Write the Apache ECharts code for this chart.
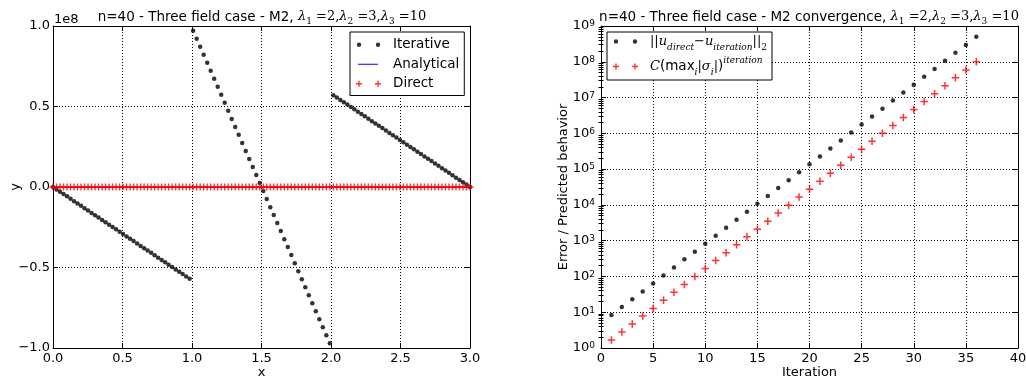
<!DOCTYPE html>
<html><head><meta charset="utf-8">
<script src="https://cdn.jsdelivr.net/npm/echarts@6/dist/echarts.min.js"></script>
<style>html,body{margin:0;padding:0;background:#fff}#c{width:1026px;height:378px}</style>
</head><body><div id="c"></div>
<script>
// ---------- Left panel data (y in units of 1e8) ----------
const X_POS = [
0, 0.0252, 0.0504, 0.0756, 0.1008, 0.1261, 0.1513, 0.1765, 0.2017, 0.2269,
0.2521, 0.2773, 0.3025, 0.3277, 0.3529, 0.3782, 0.4034, 0.4286, 0.4538, 0.4790,
0.5042, 0.5294, 0.5546, 0.5798, 0.6050, 0.6303, 0.6555, 0.6807, 0.7059, 0.7311,
0.7563, 0.7815, 0.8067, 0.8319, 0.8571, 0.8824, 0.9076, 0.9328, 0.9580, 0.9832,
1.0084, 1.0336, 1.0588, 1.0840, 1.1092, 1.1345, 1.1597, 1.1849, 1.2101, 1.2353,
1.2605, 1.2857, 1.3109, 1.3361, 1.3613, 1.3866, 1.4118, 1.4370, 1.4622, 1.4874,
1.5126, 1.5378, 1.5630, 1.5882, 1.6134, 1.6387, 1.6639, 1.6891, 1.7143, 1.7395,
1.7647, 1.7899, 1.8151, 1.8403, 1.8655, 1.8908, 1.9160, 1.9412, 1.9664, 1.9916,
2.0168, 2.0420, 2.0672, 2.0924, 2.1176, 2.1429, 2.1681, 2.1933, 2.2185, 2.2437,
2.2689, 2.2941, 2.3193, 2.3445, 2.3697, 2.3950, 2.4202, 2.4454, 2.4706, 2.4958,
2.5210, 2.5462, 2.5714, 2.5966, 2.6218, 2.6471, 2.6723, 2.6975, 2.7227, 2.7479,
2.7731, 2.7983, 2.8235, 2.8487, 2.8739, 2.8992, 2.9244, 2.9496, 2.9748, 3.0000];
const Y_ITERATIVE = [
0, -0.015, -0.029, -0.044, -0.058, -0.073, -0.088, -0.102, -0.117, -0.132,
-0.146, -0.161, -0.175, -0.190, -0.205, -0.219, -0.234, -0.249, -0.263, -0.278,
-0.292, -0.307, -0.322, -0.336, -0.351, -0.366, -0.380, -0.395, -0.409, -0.424,
-0.439, -0.453, -0.468, -0.483, -0.497, -0.512, -0.526, -0.541, -0.556, -0.570,
0.971, 0.921, 0.871, 0.822, 0.772, 0.722, 0.672, 0.622, 0.573, 0.523,
0.473, 0.423, 0.373, 0.324, 0.274, 0.224, 0.174, 0.125, 0.075, 0.025,
-0.025, -0.075, -0.125, -0.174, -0.224, -0.274, -0.324, -0.373, -0.423, -0.473,
-0.523, -0.573, -0.622, -0.672, -0.722, -0.772, -0.822, -0.871, -0.921, -0.971,
0.570, 0.556, 0.541, 0.526, 0.512, 0.497, 0.483, 0.468, 0.453, 0.439,
0.424, 0.409, 0.395, 0.380, 0.366, 0.351, 0.336, 0.322, 0.307, 0.292,
0.278, 0.263, 0.249, 0.234, 0.219, 0.205, 0.190, 0.175, 0.161, 0.146,
0.132, 0.117, 0.102, 0.088, 0.073, 0.058, 0.044, 0.029, 0.015, 0];
const Y_ANALYTICAL = [
0,0,0,0,0,0,0,0,0,0,0,0,0,0,0,0,0,0,0,0,0,0,0,0,0,0,0,0,0,0,
0,0,0,0,0,0,0,0,0,0,0,0,0,0,0,0,0,0,0,0,0,0,0,0,0,0,0,0,0,0,
0,0,0,0,0,0,0,0,0,0,0,0,0,0,0,0,0,0,0,0,0,0,0,0,0,0,0,0,0,0,
0,0,0,0,0,0,0,0,0,0,0,0,0,0,0,0,0,0,0,0,0,0,0,0,0,0,0,0,0,0];
const Y_DIRECT = [
0,0,0,0,0,0,0,0,0,0,0,0,0,0,0,0,0,0,0,0,0,0,0,0,0,0,0,0,0,0,
0,0,0,0,0,0,0,0,0,0,0,0,0,0,0,0,0,0,0,0,0,0,0,0,0,0,0,0,0,0,
0,0,0,0,0,0,0,0,0,0,0,0,0,0,0,0,0,0,0,0,0,0,0,0,0,0,0,0,0,0,
0,0,0,0,0,0,0,0,0,0,0,0,0,0,0,0,0,0,0,0,0,0,0,0,0,0,0,0,0,0];
const LEFT_X_TICKS = [0, 0.5, 1.0, 1.5, 2.0, 2.5, 3.0];
const LEFT_Y_TICKS = [-1.0, -0.5, 0.0, 0.5, 1.0];
const LEFT_Y_OFFSET = '1e8';

// ---------- Right panel data ----------
const ITER = [1,2,3,4,5,6,7,8,9,10,11,12,13,14,15,16,17,18,19,20,21,22,23,24,25,26,27,28,29,30,31,32,33,34,35,36];
const ERR = [8.4, 14, 23, 38, 64, 107, 179, 300, 490, 820, 1370, 2290, 3820, 6400, 10700, 17700, 29500, 49000,
  82000, 137000, 225000, 377000, 630000, 1.05e6, 1.77e6, 2.95e6, 4.9e6, 8.3e6, 1.38e7, 2.29e7, 3.8e7, 6.3e7,
  1.07e8, 1.78e8, 2.96e8, 5.0e8];
const PRED = [1.67, 2.8, 4.7, 7.8, 12.8, 21.5, 36, 60, 100, 168, 280, 460, 770, 1290, 2100, 3500, 5900, 9800,
  16500, 27500, 46000, 77000, 129000, 216000, 360000, 600000, 1.0e6, 1.66e6, 2.77e6, 4.6e6, 7.7e6, 1.27e7,
  2.13e7, 3.55e7, 5.9e7, 1.0e8];
const RIGHT_X_TICKS = [0, 5, 10, 15, 20, 25, 30, 35, 40];
const RIGHT_Y_EXPONENTS = [0, 1, 2, 3, 4, 5, 6, 7, 8, 9];

// ---------- styling helpers ----------
const FONT = 'DejaVu Sans';
const CORNERS = 'M0,0h0.01v0.01h-0.01zM32,10h0.01v0.01h-0.01z';
const ICON_DOTS = 'path://' + CORNERS + 'M0.8,5a2.2,2.2 0 1,0 4.4,0a2.2,2.2 0 1,0 -4.4,0zM19.8,5a2.2,2.2 0 1,0 4.4,0a2.2,2.2 0 1,0 -4.4,0z';
const ICON_LINE = 'path://' + CORNERS + 'M2,4.5h20v1h-20z';
const ICON_PLUS = 'path://' + CORNERS + 'M0,4.3h6v1.4h-6zM2.3,2h1.4v6h-1.4zM19,4.3h6v1.4h-6zM21.3,2h1.4v6h-1.4z';
const PLUS_SYMBOL = 'path://M0,4h10v2h-10zM4,0h2v10h-2z';

const mathRich = {
  m: {fontFamily: 'DejaVu Serif', fontStyle: 'italic', fontSize: 13, lineHeight: 18, color: '#000'},
  n: {fontFamily: 'DejaVu Serif', fontSize: 13, lineHeight: 18, color: '#000'},
  t: {fontFamily: FONT, fontSize: 13.5, lineHeight: 18, color: '#000'},
  sub: {fontFamily: 'DejaVu Serif', fontStyle: 'italic', fontSize: 9, lineHeight: 11, verticalAlign: 'bottom', color: '#000'},
  subn: {fontFamily: 'DejaVu Serif', fontSize: 9, lineHeight: 11, verticalAlign: 'bottom', color: '#000'},
  sup: {fontFamily: 'DejaVu Serif', fontStyle: 'italic', fontSize: 9, lineHeight: 11, verticalAlign: 'top', color: '#000'}
};
const legendRich = {
  m: {fontFamily: 'DejaVu Serif', fontStyle: 'italic', fontSize: 13, lineHeight: 21, color: '#000'},
  n: {fontFamily: 'DejaVu Serif', fontSize: 13, lineHeight: 21, color: '#000'},
  t: {fontFamily: FONT, fontSize: 13.5, lineHeight: 21, color: '#000'},
  sub: {fontFamily: 'DejaVu Serif', fontStyle: 'italic', fontSize: 9, lineHeight: 13, verticalAlign: 'bottom', color: '#000'},
  subn: {fontFamily: 'DejaVu Serif', fontSize: 9, lineHeight: 13, verticalAlign: 'bottom', color: '#000'},
  sup: {fontFamily: 'DejaVu Serif', fontStyle: 'italic', fontSize: 9, lineHeight: 13, verticalAlign: 'top', color: '#000'}
};
const lambdaPart = '{m|λ}{subn|1}{n| =2,}{m|λ}{subn|2}{n| =3,}{m|λ}{subn|3}{n| =10}';

const gridLine = {show: true, lineStyle: {color: '#000', type: [1, 2], width: 1}};
const axLine = {show: true, onZero: false, lineStyle: {color: '#000', width: 1}};
const tickIn = {show: true, inside: true, length: 5, lineStyle: {color: '#000'}};
const lbl = {color: '#000', fontFamily: FONT, fontSize: 13};
const fmt1 = v => (v < 0 ? '\u2212' : '') + Math.abs(v).toFixed(1);

const minorVals = [];
for (let e = 0; e < 9; e++) for (let k = 2; k <= 9; k++) minorVals.push(k * Math.pow(10, e));

const chart = echarts.init(document.getElementById('c'), null, {renderer: 'canvas'});
chart.setOption({
  animation: false,
  backgroundColor: '#fff',
  title: [
    {text: '{t|n=40 - Three field case - M2, }' + lambdaPart, left: 262, textAlign: 'center', top: 8, padding: 0,
     textStyle: {fontFamily: FONT, fontSize: 13.5, fontWeight: 'normal', color: '#000', rich: mathRich}},
    {text: '{t|n=40 - Three field case - M2 convergence, }' + lambdaPart, left: 809, textAlign: 'center', top: 8, padding: 0,
     textStyle: {fontFamily: FONT, fontSize: 13.5, fontWeight: 'normal', color: '#000', rich: mathRich}}
  ],
  graphic: [
    {type: 'text', left: 54, top: 13, style: {text: LEFT_Y_OFFSET, font: '13px "DejaVu Sans"', fill: '#000'}}
  ],
  legend: [
    {left: 350, top: 32, orient: 'vertical', padding: [5, 5, 4, 6], itemGap: 4, itemWidth: 32, itemHeight: 10,
     borderColor: '#000', borderWidth: 1, backgroundColor: '#fff', borderRadius: 0,
     textStyle: {fontFamily: FONT, fontSize: 13.5, color: '#000', lineHeight: 15.5},
     data: [{name: 'Iterative', icon: ICON_DOTS}, {name: 'Analytical', icon: ICON_LINE}, {name: 'Direct', icon: ICON_PLUS}]},
    {left: 607, top: 32, orient: 'vertical', padding: [3, 5, 3, 6], itemGap: 4, itemWidth: 32, itemHeight: 10,
     borderColor: '#000', borderWidth: 1, backgroundColor: '#fff', borderRadius: 0,
     textStyle: {fontFamily: FONT, fontSize: 13, color: '#000', rich: legendRich},
     formatter: name => name === 'err'
       ? '{n|||}{m|u}{sub|direct}{n|\u2212}{m|u}{sub|iteration}{n|||}{subn|2}'
       : '{m|C}{t|(max}{sub|i}{n||}{m|σ}{sub|i}{n||}{t|)}{sup|iteration}',
     data: [{name: 'err', icon: ICON_DOTS}, {name: 'pred', icon: ICON_PLUS}]}
  ],
  grid: [
    {left: 53, top: 26, width: 417, height: 322, show: false, outerBoundsMode: 'none', containLabel: false},
    {left: 601, top: 26, width: 417, height: 322, show: false, outerBoundsMode: 'none', containLabel: false}
  ],
  xAxis: [
    {gridIndex: 0, type: 'value', min: LEFT_X_TICKS[0], max: LEFT_X_TICKS[LEFT_X_TICKS.length - 1],
     interval: LEFT_X_TICKS[1] - LEFT_X_TICKS[0], position: 'bottom',
     axisLine: axLine, axisTick: tickIn, splitLine: gridLine,
     axisLabel: Object.assign({margin: 4, formatter: fmt1}, lbl),
     name: 'x', nameLocation: 'middle', nameGap: 18, nameMoveOverlap: false, nameTextStyle: lbl},
    {gridIndex: 0, type: 'value', min: 0, max: 3, interval: 0.5, position: 'top',
     axisLine: axLine, axisTick: tickIn, splitLine: {show: false}, axisLabel: {show: false}},
    {gridIndex: 1, type: 'value', min: RIGHT_X_TICKS[0], max: RIGHT_X_TICKS[RIGHT_X_TICKS.length - 1],
     interval: RIGHT_X_TICKS[1] - RIGHT_X_TICKS[0], position: 'bottom',
     axisLine: axLine, axisTick: tickIn, splitLine: gridLine,
     axisLabel: Object.assign({margin: 4}, lbl),
     name: 'Iteration', nameLocation: 'middle', nameGap: 18, nameMoveOverlap: false, nameTextStyle: lbl},
    {gridIndex: 1, type: 'value', min: 0, max: 40, interval: 5, position: 'top',
     axisLine: axLine, axisTick: tickIn, splitLine: {show: false}, axisLabel: {show: false}}
  ],
  yAxis: [
    {gridIndex: 0, type: 'value', min: LEFT_Y_TICKS[0], max: LEFT_Y_TICKS[LEFT_Y_TICKS.length - 1],
     interval: LEFT_Y_TICKS[1] - LEFT_Y_TICKS[0], position: 'left',
     axisLine: axLine, axisTick: tickIn, splitLine: gridLine,
     axisLabel: Object.assign({margin: 3, formatter: fmt1}, lbl),
     name: 'y', nameLocation: 'middle', nameGap: 31, nameMoveOverlap: false, nameTextStyle: lbl},
    {gridIndex: 0, type: 'value', min: -1, max: 1, interval: 0.5, position: 'right',
     axisLine: axLine, axisTick: tickIn, splitLine: {show: false}, axisLabel: {show: false}},
    {gridIndex: 1, type: 'log', logBase: 10, min: 1, max: 1e9, splitNumber: 9, position: 'left',
     axisLine: axLine, axisTick: tickIn, splitLine: gridLine,
     axisLabel: Object.assign({margin: 6,
       formatter: v => '10{s|' + RIGHT_Y_EXPONENTS[Math.round(Math.log10(v))] + '}',
       rich: {s: {fontFamily: FONT, fontSize: 9, lineHeight: 10, verticalAlign: 'top', color: '#000'}}}, lbl),
     name: 'Error / Predicted behavior', nameLocation: 'middle', nameGap: 31, nameMoveOverlap: false, nameTextStyle: lbl},
    {gridIndex: 1, type: 'log', logBase: 10, min: 1, max: 1e9, splitNumber: 9, position: 'right',
     axisLine: axLine, axisTick: tickIn, splitLine: {show: false}, axisLabel: {show: false}},
    {gridIndex: 1, type: 'log', logBase: 10, min: 1, max: 1e9, position: 'left',
     axisLine: {show: false}, splitLine: {show: false}, axisLabel: {show: false},
     axisTick: {show: true, inside: true, length: 2.5, customValues: minorVals, lineStyle: {color: '#000'}}},
    {gridIndex: 1, type: 'log', logBase: 10, min: 1, max: 1e9, position: 'right',
     axisLine: {show: false}, splitLine: {show: false}, axisLabel: {show: false},
     axisTick: {show: true, inside: true, length: 2.5, customValues: minorVals, lineStyle: {color: '#000'}}}
  ],
  series: [
    {name: 'Iterative', type: 'scatter', xAxisIndex: 0, yAxisIndex: 0, symbol: 'circle', symbolSize: 4.5,
     itemStyle: {color: '#000'}, data: X_POS.map((x, i) => [x, Y_ITERATIVE[i]]), z: 2},
    {name: 'Analytical', type: 'line', xAxisIndex: 0, yAxisIndex: 0, showSymbol: false, symbol: 'none',
     lineStyle: {color: '#0000ff', width: 1}, itemStyle: {color: '#0000ff'},
     data: X_POS.map((x, i) => [x, Y_ANALYTICAL[i]]), z: 3},
    {name: 'Direct', type: 'scatter', xAxisIndex: 0, yAxisIndex: 0, symbol: PLUS_SYMBOL, symbolSize: 7,
     itemStyle: {color: '#ff0000'}, data: X_POS.map((x, i) => [x, Y_DIRECT[i]]), z: 4},
    {name: 'err', type: 'scatter', xAxisIndex: 2, yAxisIndex: 2, symbol: 'circle', symbolSize: 4.5,
     itemStyle: {color: '#000'}, data: ITER.map((x, i) => [x, ERR[i]])},
    {name: 'pred', type: 'scatter', xAxisIndex: 2, yAxisIndex: 2, symbol: PLUS_SYMBOL, symbolSize: 7.5,
     itemStyle: {color: '#ff0000'}, data: ITER.map((x, i) => [x, PRED[i]])}
  ]
});
</script>
</body></html>
